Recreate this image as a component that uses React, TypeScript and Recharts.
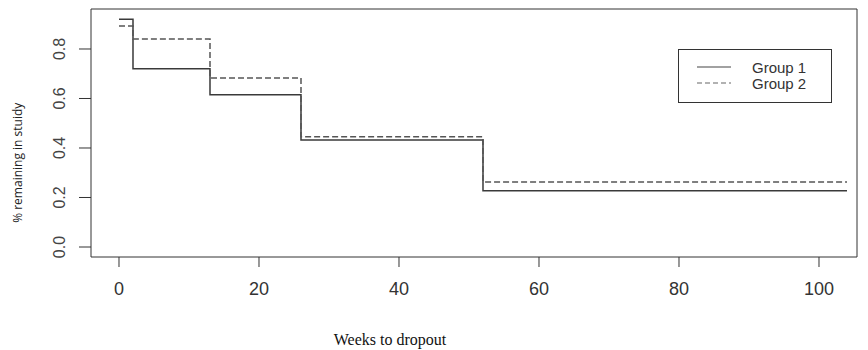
import React from 'react';
import { LineChart, Line, XAxis, YAxis, ReferenceArea, Label } from 'recharts';

// Kaplan-Meier style retention, step changes at each week
const weeks = [0, 2, 13, 26, 52, 104];
const group1 = [0.92, 0.72, 0.615, 0.432, 0.227, 0.227];
const group2 = [0.893, 0.84, 0.683, 0.445, 0.263, 0.263];
const xTicks = [0, 20, 40, 60, 80, 100];
const yTicks = [0, 0.2, 0.4, 0.6, 0.8];
const seriesNames = ['Group 1', 'Group 2'];

const X_DOMAIN: [number, number] = [-4, 105.43];
const Y_DOMAIN: [number, number] = [-0.0404, 0.9616];

const chartData = weeks.map((w, i) => ({ week: w, g1: group1[i], g2: group2[i] }));

const YTick = (props: any) => {
  const { x, y, payload } = props;
  return (
    <text
      x={x}
      y={y}
      transform={`rotate(-90, ${x}, ${y})`}
      textAnchor="middle"
      fill="#444"
      fontSize={16}
      fontFamily="'Liberation Sans', Arial, sans-serif"
    >
      {Number(payload.value).toFixed(1)}
    </text>
  );
};

const YTitle = (props: any) => {
  const { viewBox } = props;
  const x = viewBox.x + 22;
  const y = viewBox.y + viewBox.height * 0.62;
  return (
    <text
      x={x}
      y={y}
      transform={`rotate(-90, ${x}, ${y})`}
      textAnchor="middle"
      fill="#222"
      fontSize={12}
      fontFamily="'Open Sans', 'Noto Sans', sans-serif"
    >
      % remaining in stuidy
    </text>
  );
};

const XTitle = (props: any) => {
  const { viewBox } = props;
  return (
    <text
      x={viewBox.x + 299}
      y={viewBox.y + 88}
      textAnchor="middle"
      fill="#111"
      fontSize={16}
      fontFamily="'Liberation Serif', 'Times New Roman', serif"
    >
      Weeks to dropout
    </text>
  );
};

const LegendBox = () => (
  <div
    style={{
      position: 'absolute',
      left: 678,
      top: 49,
      width: 152,
      height: 52,
      border: '1px solid #333',
      background: '#fff',
      fontFamily: "'Liberation Sans', Arial, sans-serif",
      fontSize: 15,
      color: '#333',
    }}
  >
    <svg width={60} height={52} style={{ position: 'absolute', left: 0, top: 0 }}>
      <line x1={18} x2={52} y1={17} y2={17} stroke="#444" strokeWidth={1.2} />
      <line x1={18} x2={52} y1={33} y2={33} stroke="#666" strokeWidth={1.2} strokeDasharray="5 3" />
    </svg>
    <div style={{ position: 'absolute', left: 73, top: 10, lineHeight: '15px' }}>{seriesNames[0]}</div>
    <div style={{ position: 'absolute', left: 73, top: 26, lineHeight: '15px' }}>{seriesNames[1]}</div>
  </div>
);

export default function App() {
  return (
    <div style={{ position: 'absolute', left: 0, top: 0, width: 868, height: 350, background: '#fff' }}>
      <LineChart
        width={868}
        height={350}
        data={chartData}
        margin={{ top: 9, right: 11, left: 0, bottom: 0 }}
      >
        <XAxis
          dataKey="week"
          type="number"
          domain={X_DOMAIN}
          ticks={xTicks}
          allowDataOverflow
          axisLine={false}
          tickSize={10}
          tickMargin={15}
          height={93}
          tickLine={{ stroke: '#333' }}
          tick={{ fill: '#333', fontSize: 18, fontFamily: "'Liberation Sans', Arial, sans-serif" }}
        >
          <Label content={XTitle} />
        </XAxis>
        <YAxis
          type="number"
          domain={Y_DOMAIN}
          ticks={yTicks}
          allowDataOverflow
          axisLine={false}
          width={91}
          tickSize={12}
          tickMargin={14}
          tickLine={{ stroke: '#333' }}
          tick={<YTick />}
        >
          <Label content={YTitle} />
        </YAxis>
        <ReferenceArea
          x1={X_DOMAIN[0]}
          x2={X_DOMAIN[1]}
          y1={Y_DOMAIN[0]}
          y2={Y_DOMAIN[1]}
          fill="none"
          stroke="#333"
          strokeWidth={1}
        />
        <Line
          type="stepAfter"
          dataKey="g1"
          name={seriesNames[0]}
          stroke="#3a3a3a"
          strokeWidth={1.5}
          dot={false}
          isAnimationActive={false}
        />
        <Line
          type="stepAfter"
          dataKey="g2"
          name={seriesNames[1]}
          stroke="#555"
          strokeWidth={1.5}
          strokeDasharray="6 3"
          dot={false}
          isAnimationActive={false}
        />
      </LineChart>
      <LegendBox />
    </div>
  );
}
